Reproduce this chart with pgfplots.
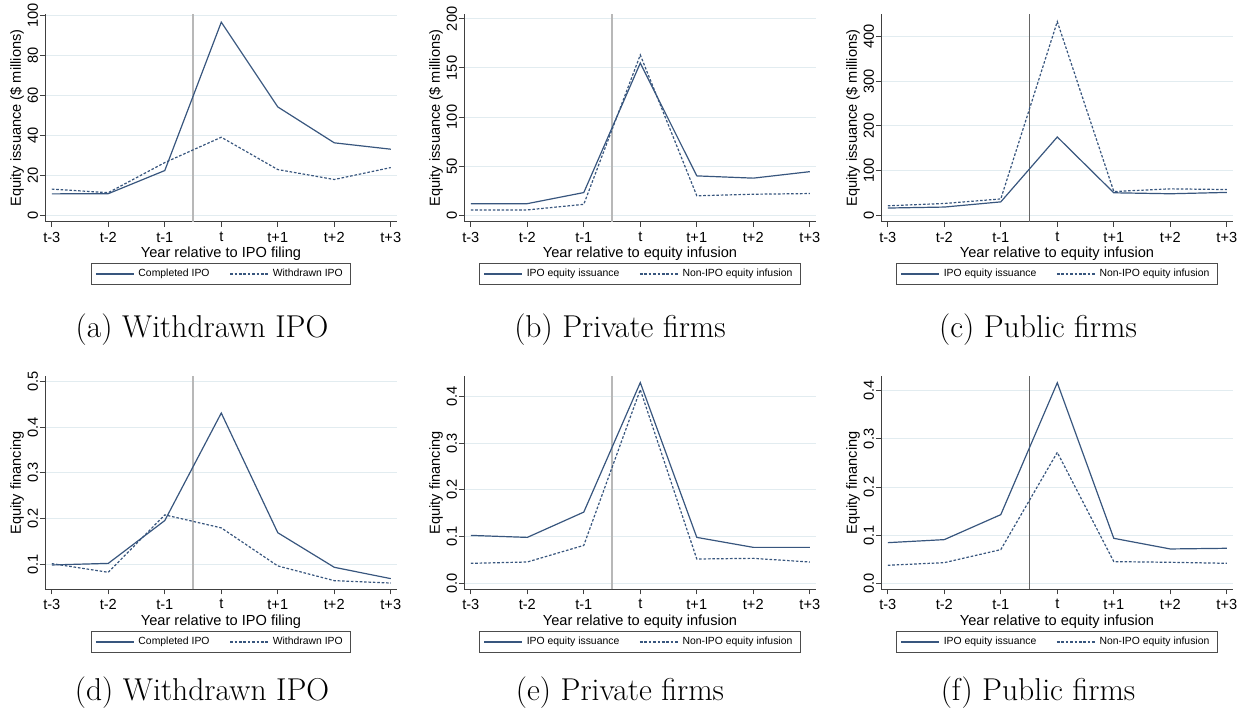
\documentclass[border=0pt]{standalone}
\usepackage{pgfplots}
\pgfplotsset{compat=1.18}
\usepackage{fontspec}
\newfontfamily\arial{Liberation Sans}

\definecolor{linec}{RGB}{56,86,126}
\definecolor{gridc}{RGB}{226,236,240}

\pgfplotsset{
  panel/.style={
    scale only axis,
    axis x line*=bottom, axis y line*=left,
    axis line style={-, draw=black!75, line width=0.5pt},
    xmin=-3.12, xmax=3.11,
    xtick={-3,...,3}, xticklabels={t-3,t-2,t-1,t,t+1,t+2,t+3},
    tick align=outside, major tick length=2.5pt,
    tick style={black!75, line width=0.5pt},
    ymajorgrids, grid style={gridc, line width=0.5pt},
    font=\arial\fontsize{7.3}{8.5}\selectfont,
    xticklabel style={yshift=1pt},
    yticklabel style={rotate=90, anchor=south, yshift=-2.5pt},
    xlabel style={at={(axis description cs:0.5,0)}, anchor=center, yshift=-16pt},
    ylabel style={at={(axis description cs:0,0.5)}, anchor=center, yshift=14pt},
    /pgf/number format/assume math mode=true,
    legend columns=2,
    legend cell align=left,
    legend style={font=\arial\fontsize{5.2}{6}\selectfont, draw=black!70,
      line width=0.4pt, inner xsep=2pt, inner ysep=0.6pt, anchor=center,
      /tikz/every even column/.append style={column sep=8pt}},
    legend image code/.code={\draw[#1] (0pt,0pt) -- (19pt,0pt);},
  },
  solid line/.style={draw=linec, line width=0.6pt},
  dash line/.style={draw=linec, line width=0.6pt, dash pattern=on 1.3pt off 0.9pt},
  vline light/.style={draw=black!28, line width=1pt, forget plot},
  vline dark/.style={draw=black!60, line width=0.5pt, forget plot},
  top row/.style={width=176pt, height=104pt, legend style={at={(0.5,-0.25)}}},
  bottom row/.style={width=176pt, height=106.5pt, legend style={at={(0.5,-0.247)}}},
}

\begin{document}
\begin{tikzpicture}
\path[use as bounding box] (0,0) rectangle (623.5pt,356.5pt);

% (a)
\begin{axis}[panel, top row, at={(22.5pt,245.5pt)}, anchor=south west,
  ymin=-3.5, ymax=100.8, ytick={0,20,...,100},
  xlabel={Year relative to IPO filing}, ylabel={Equity issuance (\$ millions)}]
\addplot[vline light] coordinates {(-0.5,-3.5) (-0.5,100.8)};
\addplot[solid line] coordinates {(-3,10.6) (-2,10.7) (-1,22.3) (0,96.7) (1,54.2) (2,36.2) (3,33)};
\addlegendentry{Completed IPO}
\addplot[dash line] coordinates {(-3,13) (-2,11.2) (-1,26.3) (0,39) (1,22.8) (2,17.8) (3,23.8)};
\addlegendentry{Withdrawn IPO}
\end{axis}

% (b)
\begin{axis}[panel, top row, at={(232pt,245.5pt)}, anchor=south west,
  ymin=-7, ymax=205, ytick={0,50,...,200},
  xlabel={Year relative to equity infusion}, ylabel={Equity issuance (\$ millions)}]
\addplot[vline light] coordinates {(-0.5,-7) (-0.5,205)};
\addplot[solid line] coordinates {(-3,11.7) (-2,11.7) (-1,23) (0,155) (1,40) (2,37.7) (3,44.3)};
\addlegendentry{IPO equity issuance}
\addplot[dash line] coordinates {(-3,5.3) (-2,5.3) (-1,11) (0,163.3) (1,19.7) (2,21.3) (3,22)};
\addlegendentry{Non-IPO equity infusion}
\end{axis}

% (c)
\begin{axis}[panel, top row, at={(440.5pt,245.5pt)}, anchor=south west,
  ymin=-15.3, ymax=451, ytick={0,100,...,400},
  xlabel={Year relative to equity infusion}, ylabel={Equity issuance (\$ millions)}]
\addplot[vline dark] coordinates {(-0.5,-15.3) (-0.5,451)};
\addplot[solid line] coordinates {(-3,16) (-2,18.2) (-1,29.8) (0,175.3) (1,50.2) (2,48) (3,51)};
\addlegendentry{IPO equity issuance}
\addplot[dash line] coordinates {(-3,21) (-2,26.2) (-1,36.4) (0,434) (1,53) (2,59) (3,57.5)};
\addlegendentry{Non-IPO equity infusion}
\end{axis}

% (d)
\begin{axis}[panel, bottom row, at={(22.5pt,61.85pt)}, anchor=south west,
  ymin=0.0453, ymax=0.511, ytick={0.1,0.2,...,0.5},
  yticklabel style={/pgf/number format/.cd, fixed, fixed zerofill, precision=1},
  xlabel={Year relative to IPO filing}, ylabel={Equity financing}]
\addplot[vline light] coordinates {(-0.5,0.0453) (-0.5,0.511)};
\addplot[solid line] coordinates {(-3,0.0985) (-2,0.102) (-1,0.1956) (0,0.4307) (1,0.169) (2,0.0934) (3,0.0686)};
\addlegendentry{Completed IPO}
\addplot[dash line] coordinates {(-3,0.1015) (-2,0.0825) (-1,0.208) (0,0.1796) (1,0.0964) (2,0.0642) (3,0.059)};
\addlegendentry{Withdrawn IPO}
\end{axis}

% (e)
\begin{axis}[panel, bottom row, at={(232pt,61.85pt)}, anchor=south west,
  ymin=-0.0128, ymax=0.4427, ytick={0,0.1,...,0.4},
  yticklabel style={/pgf/number format/.cd, fixed, fixed zerofill, precision=1},
  xlabel={Year relative to equity infusion}, ylabel={Equity financing}]
\addplot[vline light] coordinates {(-0.5,-0.0128) (-0.5,0.4427)};
\addplot[solid line] coordinates {(-3,0.1025) (-2,0.0982) (-1,0.1523) (0,0.4292) (1,0.0982) (2,0.0769) (3,0.0769)};
\addlegendentry{IPO equity issuance}
\addplot[dash line] coordinates {(-3,0.0427) (-2,0.0456) (-1,0.0811) (0,0.4142) (1,0.052) (2,0.0534) (3,0.0456)};
\addlegendentry{Non-IPO equity infusion}
\end{axis}

% (f)
\begin{axis}[panel, bottom row, at={(440.5pt,61.85pt)}, anchor=south west,
  ymin=-0.0125, ymax=0.430, ytick={0,0.1,...,0.4},
  yticklabel style={/pgf/number format/.cd, fixed, fixed zerofill, precision=1},
  xlabel={Year relative to equity infusion}, ylabel={Equity financing}]
\addplot[vline dark] coordinates {(-0.5,-0.0125) (-0.5,0.430)};
\addplot[solid line] coordinates {(-3,0.0844) (-2,0.0907) (-1,0.1426) (0,0.4166) (1,0.0934) (2,0.0713) (3,0.0727)};
\addlegendentry{IPO equity issuance}
\addplot[dash line] coordinates {(-3,0.0374) (-2,0.0429) (-1,0.0699) (0,0.272) (1,0.045) (2,0.0436) (3,0.0415)};
\addlegendentry{Non-IPO equity infusion}
\end{axis}

% captions
\begin{scope}[every node/.style={anchor=base, font=\fontsize{15.8}{19}\selectfont}]
\node at (101pt,187.75pt) {(a) Withdrawn IPO};
\node at (310pt,187.75pt) {(b) Private firms};
\node at (519pt,187.75pt) {(c) Public firms};
\node at (101pt,6.25pt) {(d) Withdrawn IPO};
\node at (310pt,6.25pt) {(e) Private firms};
\node at (519pt,6.25pt) {(f) Public firms};
\end{scope}
\end{tikzpicture}
\end{document}
